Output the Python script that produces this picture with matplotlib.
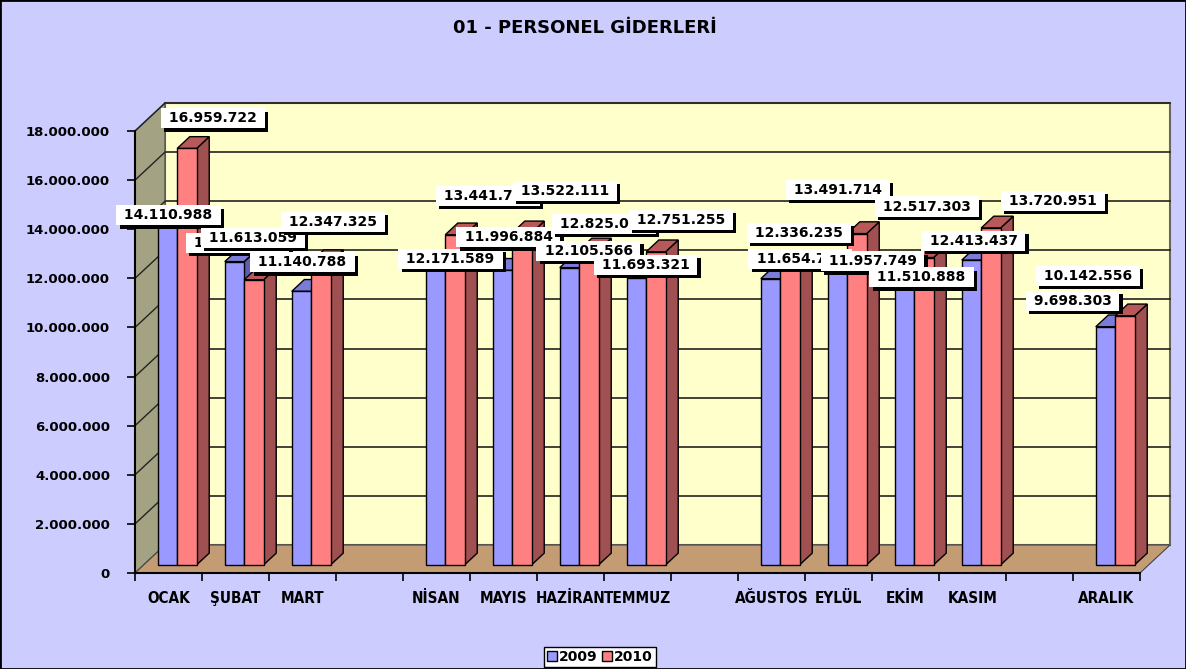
import numpy as np
import matplotlib
matplotlib.use('Agg')
import matplotlib.pyplot as plt
from matplotlib.patches import Polygon, Rectangle
from matplotlib import patheffects as pe

# Veriler
aylar = ['OCAK', 'ŞUBAT', 'MART', '', 'NİSAN', 'MAYIS', 'HAZİRAN', 'TEMMUZ', '',
         'AĞUSTOS', 'EYLÜL', 'EKİM', 'KASIM', '', 'ARALIK']
y2009 = [14110988, 12350000, 11140788, None, 12171589, 11996884, 12105566, 11693321, None,
         11654720, 11957749, 11510888, 12413437, None, 9698303]
y2010 = [16959722, 11613059, 12347325, None, 13441760, 13522111, 12825040, 12751255, None,
         12336235, 13491714, 12517303, 13720951, None, 10142556]
yticks = np.arange(0, 18000001, 2000000)

# etiket kaydırmaları (piksel), Excel'deki gibi dağınık
kay09 = [(1, 3), (3, 19), (1, 29), None, (15, 7), (6, 33), (19, 17), (9, 13), None,
         (30, 20), (35, 10), (17, 5), (2, 19), None, (-33, 26)]
kay10 = [(26, 30), (-1, 42), (12, 40), None, (33, 39), (43, 42), (15, 26), (25, 32), None,
         (9, 29), (-19, 44), (3, 51), (62, 27), None, (-37, 40)]

W, H = 1186, 669
fig = plt.figure(figsize=(W / 100, H / 100), dpi=100, facecolor='#CCCCFF')
ax_l, ax_b, ax_w, ax_h = 135, 573, 1005, 442  # piksel
ax = fig.add_axes([ax_l / W, (H - ax_b) / H, ax_w / W, ax_h / H])
n = len(aylar)
ymax = 18000000
ax.set_xlim(-0.5, n - 0.5)
ax.set_ylim(0, ymax)
ax.patch.set_visible(False)

# derinlik (3B görünüm) piksel -> veri birimi
px_x = ax_w / n
px_y = ax_h / ymax
DX = 30 / px_x
DY = 28 / px_y

x0, x1 = -0.5, n - 0.5
# arka duvar
ax.add_patch(Polygon([(x0 + DX, DY), (x1 + DX, DY), (x1 + DX, ymax + DY), (x0 + DX, ymax + DY)],
                     fc='#FFFFCC', ec='#666666', lw=1.5, zorder=0, clip_on=False))
# sol duvar
ax.add_patch(Polygon([(x0, 0), (x0 + DX, DY), (x0 + DX, ymax + DY), (x0, ymax)],
                     fc='#A3A383', ec='#555555', lw=1, zorder=1, clip_on=False))
# zemin
ax.add_patch(Polygon([(x0, 0), (x1, 0), (x1 + DX, DY), (x0 + DX, DY)],
                     fc='#C49C74', ec='#444444', lw=0.8, zorder=1, clip_on=False))
# izgara çizgileri
for t in yticks[1:]:
    ax.plot([x0 + DX, x1 + DX], [t + DY, t + DY], color='#222222', lw=1.2, zorder=0.5, clip_on=False)
    ax.plot([x0, x0 + DX], [t, t + DY], color='#222222', lw=1, zorder=1.5, clip_on=False)

f1, f2 = 0.29, 0.71
bw = 0.29


def cubuk(xs, v, cf, ct, cs, z):
    bx = xs + f1 * DX
    by = f1 * DY
    ddx = (f2 - f1) * DX
    ddy = (f2 - f1) * DY
    ax.add_patch(Polygon([(bx + bw, by), (bx + bw + ddx, by + ddy), (bx + bw + ddx, by + v + ddy), (bx + bw, by + v)],
                         fc=cs, ec='black', lw=1, zorder=z, clip_on=False))
    ax.add_patch(Polygon([(bx, by + v), (bx + bw, by + v), (bx + bw + ddx, by + v + ddy), (bx + ddx, by + v + ddy)],
                         fc=ct, ec='black', lw=1, zorder=z, clip_on=False))
    ax.add_patch(Rectangle((bx, by), bw, v, fc=cf, ec='black', lw=1, zorder=z + 0.1, clip_on=False))
    return bx + bw / 2, by + v


def etiket(xy, v, kay, z):
    t = ax.annotate(' ' + f'{v:,}'.replace(',', '.') + ' ', xy=xy, xytext=kay, textcoords='offset pixels',
                    ha='center', va='center', fontsize=10, fontweight='bold', zorder=z,
                    annotation_clip=False,
                    bbox=dict(boxstyle='square,pad=0.22', fc='white', ec='none'))
    t.get_bbox_patch().set_path_effects([pe.SimplePatchShadow(offset=(2.4, -2.4), shadow_rgbFace='black', alpha=1),
                                         pe.Normal()])


for i in range(n):
    if y2009[i] is None:
        continue
    z = 3 + i
    p1 = cubuk(i - bw, y2009[i], '#9999FF', '#7B7BD8', '#5E5EAA', z)
    p2 = cubuk(i, y2010[i], '#FF8080', '#B85858', '#A05050', z + 0.3)
    etiket(p1, y2009[i], kay09[i], 50 + 2 * i)
    etiket(p2, y2010[i], kay10[i], 51 + 2 * i)

# eksenler
for s in ['top', 'right']:
    ax.spines[s].set_visible(False)
ax.spines['left'].set_linewidth(1.5)
ax.spines['bottom'].set_linewidth(1.5)
ax.spines['left'].set_zorder(2)
ax.spines['bottom'].set_zorder(2)
ax.set_yticks(yticks)
ax.set_yticklabels([f'{t:,}'.replace(',', '.') for t in yticks], fontsize=9.5, fontweight='bold')
ax.tick_params(axis='y', length=6, width=1.2, pad=12)
ax.set_xticks(np.arange(-0.5, n, 1))
ax.set_xticklabels([])
ax.tick_params(axis='x', length=6, width=1.2)
ax.set_xticks(np.arange(n), minor=True)
ax.set_xticklabels(aylar, minor=True, fontsize=11, fontweight='bold', fontstretch='condensed')
ax.tick_params(axis='x', which='minor', length=0, pad=13)

fig.text(585 / W, 1 - 28 / H, '01 - PERSONEL GİDERLERİ', ha='center', va='center',
         fontsize=13, fontweight='bold')

# lejant
h1 = Rectangle((0, 0), 1, 1, fc='#9999FF', ec='black')
h2 = Rectangle((0, 0), 1, 1, fc='#FF8080', ec='black')
leg = fig.legend([h1, h2], ['2009', '2010'], loc='center', bbox_to_anchor=(600 / W, 1 - 657 / H),
                 ncol=2, fancybox=False, edgecolor='black', framealpha=1,
                 prop=dict(weight='bold', size=10), handlelength=0.7, handleheight=0.7,
                 handletextpad=0.15, columnspacing=0.3, borderpad=0.25, borderaxespad=0)
leg.get_frame().set_linewidth(1)

fig.add_artist(Rectangle((0, 0), 1, 1, transform=fig.transFigure, fill=False, ec='black', lw=2))

fig.savefig('out.png', dpi=100, facecolor=fig.get_facecolor())
